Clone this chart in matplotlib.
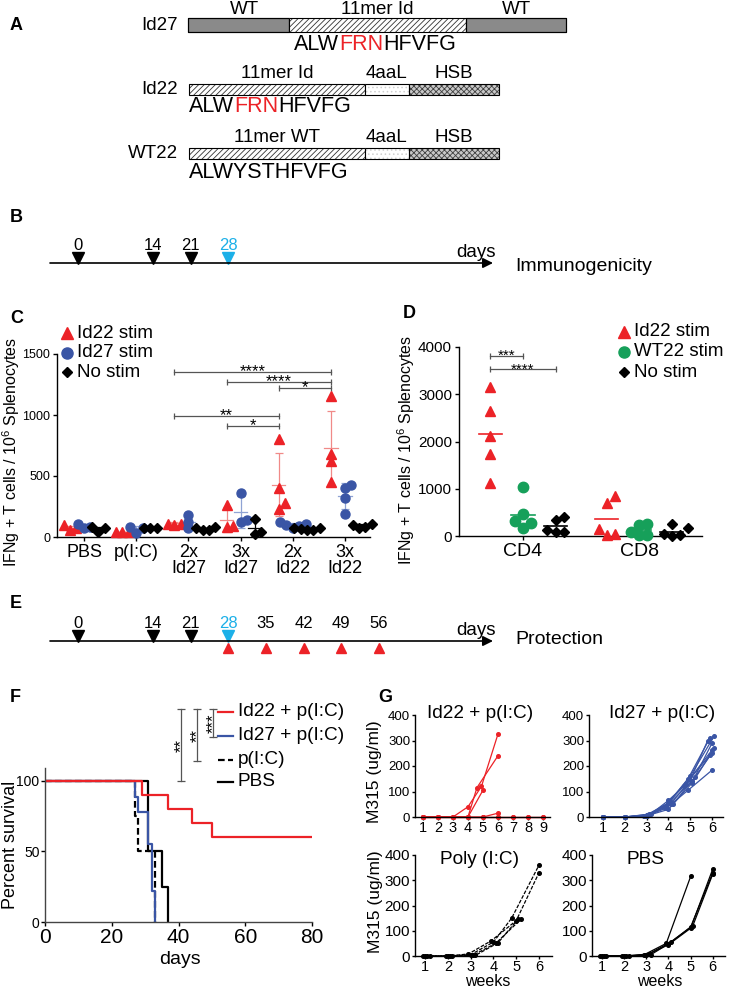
import numpy as np
import matplotlib
matplotlib.use('Agg')
import matplotlib.pyplot as plt
from matplotlib.patches import Rectangle

plt.rcParams['font.family'] = ['Liberation Sans', 'DejaVu Sans']
plt.rcParams['mathtext.default'] = 'regular'
plt.rcParams['hatch.linewidth'] = 0.6
plt.rcParams['axes.linewidth'] = 1.0

# ---------------- data ----------------
# A: constructs
a_names = ['Id27', 'Id22', 'WT22']
a_seq_parts = [[('ALW', 'k'), ('FRN', 'r'), ('HFVFG', 'k')],
               [('ALW', 'k'), ('FRN', 'r'), ('HFVFG', 'k')],
               [('ALWYSTHFVFG', 'k')]]
a_id27_segments = ['WT', '11mer Id', 'WT']
a_id22_segments = ['11mer Id', '4aaL', 'HSB']
a_wt22_segments = ['11mer WT', '4aaL', 'HSB']

# B / E timelines (days)
vacc_days = [0, 14, 21]
readout_day = 28
challenge_days = [28, 35, 42, 49, 56]

# C: IFNg+ T cells / 1e6 splenocytes
c_groups = ['PBS', 'p(I:C)', '2x\nId27', '3x\nId27', '2x\nId22', '3x\nId22']
c_id22 = [[55, 70, 95], [40, 40, 45], [100, 105, 110, 130], [80, 90, 260],
          [230, 280, 405, 800], [451, 623, 678, 1156]]
c_id27 = [[75, 80, 105], [30, 75, 80], [70, 125, 180], [120, 140, 360],
          [75, 90, 100, 105, 125], [191, 320, 402, 423]]
c_nostim = [[45, 75, 80], [70, 70, 70], [55, 60, 70, 80], [25, 45, 145],
            [55, 60, 65, 70, 75], [70, 85, 100, 105]]
c_sig = [(2, 5, 1352, '****'), (3, 5, 1270, '****'), (4, 5, 1220, '*'),
         (2, 4, 992, '**'), (3, 4, 910, '*')]

# D
d_groups = ['CD4', 'CD8']
d_id22 = [[3156, 2647, 2118, 1730, 1130], [847, 706, 150, 50, 30]]
d_wt22 = [[1038, 459, 318, 282, 176], [260, 230, 80, 30, 20]]
d_nostim = [[402, 346, 120, 85, 85], [245, 170, 40, 20, 0]]
d_sig = [(0, 1, 3810, '***'), (0, 2, 3530, '****')]

# F: survival
f_labels = ['Id22 + p(I:C)', 'Id27 + p(I:C)', 'p(I:C)', 'PBS']
f_id22_t = [0, 29, 37, 44, 50, 80]
f_id22_s = [100, 90, 80, 70, 60, 60]
f_id27_t = [0, 27, 28, 31, 32, 33]
f_id27_s = [100, 88.9, 77.8, 55.6, 22.2, 0]
f_pic_t = [0, 27, 28, 33]
f_pic_s = [100, 75, 50, 0]
f_pbs_t = [0, 31, 35, 37]
f_pbs_s = [100, 50, 25, 0]
f_sig = ['**', '**', '***']

# G: M315 (ug/ml) per mouse
g_id22_x = [[1, 2, 3, 4, 4.9, 6], [1, 2, 3, 4, 4.6, 6], [1, 2, 3, 4, 5.0],
            [1, 2, 3, 4, 5, 6], [1, 2, 3, 4, 5, 6, 7, 8, 9], [1, 2, 3, 4, 5, 6, 7, 8, 9]]
g_id22_y = [[0, 0, 0, 40, 120, 325], [0, 0, 0, 0, 115, 240], [0, 0, 0, 0, 105],
            [0, 0, 0, 0, 0, 15], [0, 0, 0, 0, 0, 0, 0, 0, 0], [0, 0, 0, 0, 0, 0, 0, 0, 0]]
g_id27_x = [[1, 2, 3, 3.9, 4.9, 5.9], [1, 2, 3, 4.0, 5.0, 6.1], [1, 2, 3.1, 4.1, 5.1, 6.0],
            [1, 2, 2.9, 3.8, 4.8, 6.0], [1, 2, 3, 4.2, 5.2, 6.0], [1, 2, 3.2, 4.0, 4.7, 5.9],
            [1, 2, 3, 3.9, 4.9, 6.0], [1, 2, 3.1, 4.1, 5.0, 5.8], [1, 2, 2.9, 4.0, 5.1, 6.1]]
g_id27_y = [[0, 0, 5, 45, 150, 310], [0, 0, 8, 55, 160, 318], [0, 0, 10, 60, 140, 290],
            [0, 0, 3, 40, 130, 263], [0, 0, 6, 50, 155, 251], [0, 0, 12, 65, 120, 243],
            [0, 0, 4, 35, 105, 184], [0, 0, 7, 50, 145, 300], [0, 0, 2, 30, 135, 270]]
g_pic_x = [[0.9, 1.9, 3.0, 4.0, 4.8, 6.0], [1.1, 2.1, 3.1, 4.1, 5.2],
           [1.0, 2.0, 2.9, 3.9, 5.0, 6.0], [1.2, 2.2, 3.2, 4.2, 5.1]]
g_pic_y = [[0, 0, 5, 55, 150, 360], [0, 0, 3, 50, 145],
           [0, 0, 8, 60, 140, 330], [0, 0, 2, 52, 148]]
g_pbs_x = [[0.9, 1.9, 2.9, 3.9, 5.0], [1.0, 2.0, 3.0, 4.0, 5.0, 6.0],
           [1.1, 2.1, 3.1, 4.1, 5.1, 6.0], [1.2, 2.2, 3.2, 4.0, 5.0, 6.0]]
g_pbs_y = [[0, 0, 5, 50, 315], [0, 0, 3, 45, 110, 345],
           [0, 0, 8, 55, 120, 325], [0, 0, 5, 48, 115, 330]]
g_titles = ['Id22 + p(I:C)', 'Id27 + p(I:C)', 'Poly (I:C)', 'PBS']

# ---------------- styles ----------------
RED = '#ec2227'
RED_E = '#f08a88'
BLUE = '#3a55a5'
BLUE_E = '#8fa3d4'
GREEN = '#16a05a'
CYAN = '#1cb0e8'
GRAY = '#555555'

W, H, DPI = 729, 989, 100
fig = plt.figure(figsize=(W / DPI, H / DPI), dpi=DPI)


def rect(x0, y0, x1, y1):
    return [x0 / W, 1 - y1 / H, (x1 - x0) / W, (y1 - y0) / H]


def ftext(x, y, s, **kw):
    kw.setdefault('ha', 'center')
    kw.setdefault('va', 'center')
    return fig.text(x / W, 1 - y / H, s, **kw)


# overlay axes in pixel coordinates (schematics, legends, labels)
ov = fig.add_axes([0, 0, 1, 1], zorder=10)
ov.set_xlim(0, W)
ov.set_ylim(H, 0)
ov.axis('off')
ov.patch.set_alpha(0)

# panel letters
for lab, (x, y) in zip('ABCDEFG', [(10, 26), (10, 218), (10, 318), (403, 313),
                                   (10, 604), (10, 697), (378, 697)]):
    ftext(x, y, lab, fontsize=13, fontweight='bold', ha='left')

# ---------------- A ----------------
def seg(x0, x1, y0, y1, kind):
    if kind == 'solid':
        ov.add_patch(Rectangle((x0, y0), x1 - x0, y1 - y0, facecolor='#8a8a8a',
                               edgecolor='k', lw=0.8))
    elif kind == 'hatch':
        ov.add_patch(Rectangle((x0, y0), x1 - x0, y1 - y0, facecolor='white',
                               edgecolor='#333333', hatch='//////', lw=0))
    elif kind == 'wave':
        ov.add_patch(Rectangle((x0, y0), x1 - x0, y1 - y0, facecolor='white',
                               edgecolor='#d0d0d0', hatch='....', lw=0))
    elif kind == 'cross':
        ov.add_patch(Rectangle((x0, y0), x1 - x0, y1 - y0, facecolor='#c8c8c8',
                               edgecolor='#404040', hatch='xxxxxx', lw=0))
    ov.add_patch(Rectangle((x0, y0), x1 - x0, y1 - y0, facecolor='none',
                           edgecolor='k', lw=0.8))


renderer = fig.canvas.get_renderer()


def seq_text(x, y, parts, align='left', fs=15.5):
    widths = []
    for s, c in parts:
        t = fig.text(0, 0, s, fontsize=fs)
        widths.append(t.get_window_extent(renderer).width)
        t.remove()
    total = sum(widths)
    cx = x - total / 2 if align == 'center' else x
    for (s, c), w in zip(parts, widths):
        ftext(cx, y, s, fontsize=fs, ha='left', color=RED if c == 'r' else 'k')
        cx += w


LABFS = 13.5
# Id27
bounds27 = [188, 289, 466, 566]
kinds27 = ['solid', 'hatch', 'solid']
for i in range(3):
    seg(bounds27[i], bounds27[i + 1], 18, 32, kinds27[i])
    ftext((bounds27[i] + bounds27[i + 1]) / 2 + (6 if i == 0 else 0), 10,
          a_id27_segments[i], fontsize=LABFS)
ftext(178, 25, a_names[0], fontsize=LABFS, ha='right')
seq_text(375, 44, a_seq_parts[0], align='center')

bounds22 = [189, 365, 409, 499]
kinds22 = ['hatch', 'wave', 'cross']
for row, (yb, seglabs, ylab, yseq) in enumerate([(84, a_id22_segments, 73, 107),
                                                 (148, a_wt22_segments, 138, 172)]):
    for i in range(3):
        seg(bounds22[i], bounds22[i + 1], yb, yb + 11, kinds22[i])
        ftext((bounds22[i] + bounds22[i + 1]) / 2, ylab, seglabs[i], fontsize=LABFS)
    ftext(178, yb + 5.5, a_names[row + 1], fontsize=LABFS, ha='right')
    seq_text(189, yseq, a_seq_parts[row + 1])

# ---------------- B / E timelines ----------------
def timeline(yline, tail_text, tail_y, challenge=None):
    x0px, x1px, d0px, pxday = 50, 493, 78, 5.37
    lo = (x0px - d0px) / pxday
    hi = (x1px - d0px) / pxday
    ax = fig.add_axes(rect(x0px, 0, x1px, H), zorder=11)
    ax.set_xlim(lo, hi)
    ax.set_ylim(H, 0)
    ax.axis('off')
    ax.patch.set_alpha(0)
    ax.annotate('', xy=(hi, yline), xytext=(lo, yline),
                arrowprops=dict(arrowstyle='-|>', color='k', lw=1.2,
                                mutation_scale=15, shrinkA=0, shrinkB=0))
    ax.plot(vacc_days, [yline - 5.5] * len(vacc_days), 'v', color='k', ms=8)
    ax.plot([readout_day], [yline - 5.5], 'v', color=CYAN, ms=8)
    labs = list(vacc_days) + [readout_day]
    if challenge is not None:
        ax.plot(challenge, [yline + 6.5] * len(challenge), '^', color=RED, ms=7.5)
        labs += [d for d in challenge if d != readout_day]
    for d in labs:
        ax.text(d, yline - 18, str(d), ha='center', va='center', fontsize=12,
                color=CYAN if d == readout_day else 'k')
    ax.text(74.2, yline - 6, 'days', ha='center', va='baseline', fontsize=13.5)
    ftext(515, tail_y, tail_text, fontsize=14, ha='left')


timeline(263, 'Immunogenicity', 267)
timeline(641, 'Protection', 640, challenge=challenge_days)


# ---------------- helpers ----------------
def swarm(vals, ypx, xpx, size):
    vals = np.asarray(vals, float)
    order = np.argsort(vals)
    placed = []
    offs = np.zeros(len(vals))
    for i in order:
        y = vals[i] * ypx
        for k in (0, 1, -1, 2, -2, 3, -3):
            x = k * size * 0.85
            if all(np.hypot(x - px, y - py) >= size * 0.85 for px, py in placed):
                break
        placed.append((x, y))
        offs[i] = x / xpx
    return offs


def style_axes(ax):
    for s in ('top', 'right'):
        ax.spines[s].set_visible(False)
    ax.tick_params(direction='out', length=3, width=1)


# ---------------- C ----------------
axC = fig.add_axes(rect(57, 354, 370, 537))
style_axes(axC)
axC.set_xlim(-0.52, 5.48)
axC.set_ylim(0, 1500)
axC.set_yticks([0, 500, 1000, 1500])
axC.tick_params(axis='y', labelsize=9, pad=2)
axC.set_xticks(range(len(c_groups)))
axC.set_xticklabels(c_groups, fontsize=13, linespacing=0.9)
axC.tick_params(axis='x', pad=2)
ypx_C = 183 / 1500
xpx_C = 52.2
groupsC = [(c_id22, -0.27, RED, RED_E, '^', 6.5),
           (c_id27, 0.0, BLUE, BLUE_E, 'o', 6.5),
           (c_nostim, 0.27, 'k', 'k', 'D', 4.8)]
for data, off, col, ecol, mk, ms in groupsC:
    for i, vals in enumerate(data):
        x0 = i + off
        m = np.mean(vals)
        sd = np.std(vals, ddof=1)
        axC.errorbar([x0], [m], yerr=[sd], color=ecol, capsize=3, lw=0.9, capthick=0.9,
                     zorder=2)
        axC.plot([x0 - 0.13, x0 + 0.13], [m, m], color=ecol, lw=0.9, zorder=2)
        xs = x0 + swarm(vals, ypx_C, xpx_C, 7.5)
        axC.plot(xs, vals, mk, color=col, ms=ms, ls='none', clip_on=False, zorder=3)
for g1, g2, y, s in c_sig:
    x1, x2 = g1 - 0.27, g2 - 0.27
    axC.plot([x1, x2], [y, y], color=GRAY, lw=0.9)
    axC.plot([x1, x2], [y, y], '|', color=GRAY, ms=5, mew=0.9)
    axC.annotate(s, ((x1 + x2) / 2, y), xytext=(0, -3), textcoords='offset points',
                 ha='center', va='baseline', fontsize=12)
ftext(11, 452, 'IFNg + T cells / 10$^{6}$ Splenocytes', fontsize=11.5, rotation=90)
for j, (lab, col, mk, ms) in enumerate([('Id22 stim', RED, '^', 8),
                                        ('Id27 stim', BLUE, 'o', 8),
                                        ('No stim', 'k', 'D', 5.5)]):
    y = 333 + 19.5 * j
    ov.plot([67], [y], mk, color=col, ms=ms)
    ftext(77, y, lab, fontsize=13.5, ha='left')

# ---------------- D ----------------
axD = fig.add_axes(rect(459, 347, 702, 536))
style_axes(axD)
axD.set_xlim(-0.55, 1.54)
axD.set_ylim(0, 4000)
axD.set_yticks([0, 1000, 2000, 3000, 4000])
axD.tick_params(axis='y', labelsize=11, pad=2)
axD.set_xticks(range(len(d_groups)))
axD.set_xticklabels(d_groups, fontsize=14)
axD.tick_params(axis='x', pad=2)
ypx_D = 189 / 4000
xpx_D = 116
offsD = [-0.28, 0.0, 0.28]
groupsD = [(d_id22, RED, '^', 7.5), (d_wt22, GREEN, 'o', 7.5),
           (d_nostim, 'k', 'D', 5.5)]
for (data, col, mk, ms), off in zip(groupsD, offsD):
    for i, vals in enumerate(data):
        x0 = i + off
        m = np.mean(vals)
        axD.plot([x0 - 0.1, x0 + 0.1], [m, m], color=col, lw=1.2, zorder=2)
        xs = x0 + swarm(vals, ypx_D, xpx_D, 9.5)
        axD.plot(xs, vals, mk, color=col, ms=ms, ls='none', clip_on=False, zorder=3)
for g1, g2, y, s in d_sig:
    x1, x2 = offsD[g1], offsD[g2]
    axD.plot([x1, x2], [y, y], color=GRAY, lw=0.9)
    axD.plot([x1, x2], [y, y], '|', color=GRAY, ms=5, mew=0.9)
    axD.annotate(s, ((x1 + x2) / 2, y), xytext=(0, -3), textcoords='offset points',
                 ha='center', va='baseline', fontsize=11)
ftext(406, 450, 'IFNg + T cells / 10$^{6}$ Splenocytes', fontsize=11.5, rotation=90)
for j, (lab, col, mk, ms) in enumerate([('Id22 stim', RED, '^', 8),
                                        ('WT22 stim', GREEN, 'o', 8),
                                        ('No stim', 'k', 'D', 5.5)]):
    y = 332 + 20 * j
    ov.plot([624], [y], mk, color=col, ms=ms)
    ftext(634, y, lab, fontsize=13.5, ha='left')

# ---------------- F ----------------
axF = fig.add_axes(rect(45, 768, 312, 922))
style_axes(axF)
axF.set_xlim(0, 80)
axF.set_ylim(0, 109.2)
axF.set_xticks([0, 20, 40, 60, 80])
axF.set_yticks([0, 50, 100])
axF.tick_params(axis='x', labelsize=15, pad=1)
axF.tick_params(axis='y', labelsize=10, pad=1)
for sp in ('left', 'bottom'):
    axF.spines[sp].set_color('#444444')
axF.step(f_pbs_t, f_pbs_s, where='post', color='k', lw=1.6)
axF.step(f_pic_t, f_pic_s, where='post', color='k', lw=1.6, ls=(0, (3, 1.5)))
axF.step(f_id27_t, f_id27_s, where='post', color=BLUE, lw=1.6)
axF.step(f_id22_t, f_id22_s, where='post', color=RED, lw=1.6)
ftext(180, 960, 'days', fontsize=14)
ftext(11, 845, 'Percent survival', fontsize=13, rotation=90)
legF = [(RED, '-'), (BLUE, '-'), ('k', (0, (3, 1.5))), ('k', '-')]
rowsF = [712, 736, 760, 782]
for (col, ls), lab, y in zip(legF, f_labels, rowsF):
    ov.plot([218, 233], [y, y], color=col, ls=ls, lw=1.6)
    ftext(238, y, lab, fontsize=13.7, ha='left')
brF = [(181, 781), (197, 761), (213, 737)]
for (x, y1), s in zip(brF, f_sig):
    ov.plot([x, x], [709, y1], color=GRAY, lw=0.9)
    ov.plot([x, x], [709, y1], '_', color=GRAY, ms=6, mew=0.9)
    ov.text(x + 4.5, (709 + y1) / 2, s, rotation=90, rotation_mode='anchor',
            ha='center', va='baseline', fontsize=12)

# ---------------- G ----------------
g_specs = [
    (rect(415, 715, 550, 817), (0.47, 9.47), range(1, 10), g_id22_x, g_id22_y, RED, '-', 9.5),
    (rect(589, 715, 723, 817), (0.36, 6.5), range(1, 7), g_id27_x, g_id27_y, BLUE, '-', 9.5),
    (rect(415, 855, 552, 956), (0.56, 6.57), range(1, 7), g_pic_x, g_pic_y, 'k', (0, (3, 1.2)), 11),
    (rect(592, 855, 725, 956), (0.55, 6.55), range(1, 7), g_pbs_x, g_pbs_y, 'k', '-', 11),
]
for k, (r, xl, xt, xs_all, ys_all, col, ls, yfs) in enumerate(g_specs):
    ax = fig.add_axes(r)
    style_axes(ax)
    ax.set_xlim(*xl)
    ax.set_ylim(0, 400)
    ax.set_xticks(list(xt))
    ax.set_yticks([0, 100, 200, 300, 400])
    ax.tick_params(axis='x', labelsize=10.5, pad=0.5, length=2.5)
    ax.tick_params(axis='y', labelsize=yfs, pad=1, length=2.5)
    for xs, ys in zip(xs_all, ys_all):
        ax.plot(xs, ys, color=col, ls=ls, lw=0.9, marker='o', ms=2.6, clip_on=False)
titles_pos = [(480, 713), (662, 713), (480, 860), (645, 860)]
for t, (x, y) in zip(g_titles, titles_pos):
    ftext(x, y, t, fontsize=13.7)
ftext(375, 772, 'M315 (ug/ml)', fontsize=12.5, rotation=90)
ftext(376, 902, 'M315 (ug/ml)', fontsize=12.5, rotation=90)
ftext(488, 985.5, 'weeks', fontsize=11.5, va='baseline')
ftext(660, 985.5, 'weeks', fontsize=11.5, va='baseline')

fig.savefig('out.png', dpi=DPI)
